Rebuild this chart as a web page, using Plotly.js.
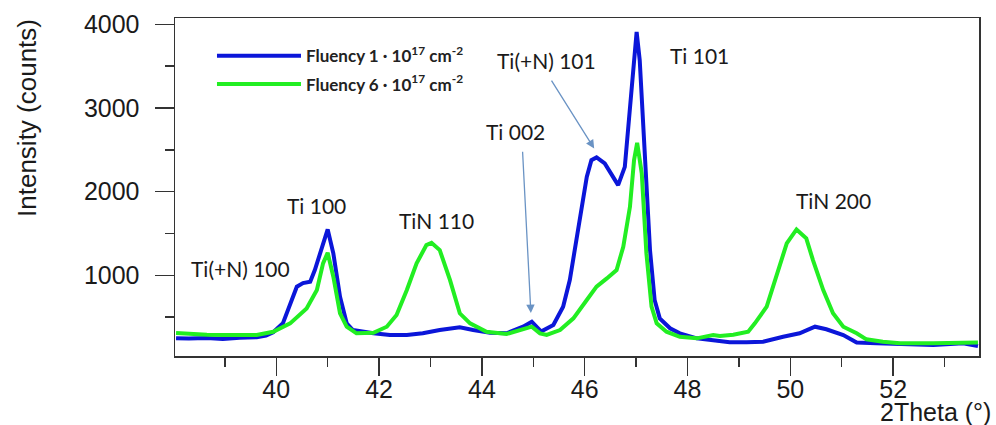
<!DOCTYPE html>
<html>
<head>
<meta charset="utf-8">
<script src="https://cdn.plot.ly/plotly-3.0.1.min.js"></script>
<style>html,body{margin:0;padding:0;background:#fff;}#chart{width:996px;height:425px;}</style>
</head>
<body>
<div id="chart"></div>
<script>
// 2Theta (deg) and intensity (counts)
const theta1 = [38.05,38.3,38.65,38.96,39.29,39.62,39.8,39.94,40.13,40.27,40.40,40.52,40.66,40.75,40.88,41.00,41.11,41.24,41.37,41.49,41.89,42.21,42.54,42.85,43.18,43.57,43.83,44.16,44.48,44.80,44.97,45.15,45.39,45.58,45.71,45.84,45.94,46.04,46.13,46.23,46.39,46.52,46.65,46.78,46.88,46.96,47.01,47.07,47.17,47.27,47.36,47.46,47.66,47.85,48.18,48.50,48.82,49.15,49.47,49.86,50.18,50.48,50.70,51.03,51.29,51.68,52.13,52.78,53.36,53.65];
const counts1 = [250,245,252,240,255,262,280,320,430,650,865,908,924,1064,1302,1549,1263,745,427,347,308,288,288,308,347,380,347,315,308,387,447,330,407,626,944,1422,1819,2177,2377,2409,2337,2198,2078,2297,3013,3690,3909,3571,2496,1302,706,487,368,308,248,228,200,200,208,267,308,387,356,288,197,189,180,168,189,156];

const theta6 = [38.05,38.3,38.65,38.96,39.62,39.94,40.27,40.59,40.79,40.91,41.00,41.11,41.24,41.37,41.56,41.89,42.15,42.34,42.54,42.73,42.92,43.02,43.18,43.38,43.57,43.77,44.09,44.48,44.80,44.97,45.13,45.26,45.52,45.78,46.04,46.23,46.43,46.62,46.75,46.88,46.96,47.02,47.11,47.20,47.30,47.40,47.59,47.85,48.18,48.50,48.63,48.89,49.18,49.31,49.54,49.73,49.93,50.12,50.31,50.44,50.64,50.83,51.03,51.29,51.48,51.80,52.13,52.78,53.42,53.65];
const counts6 = [311,300,290,288,288,327,427,606,825,1144,1270,984,547,387,308,315,387,526,825,1144,1362,1390,1302,944,547,427,327,300,356,387,308,288,347,487,706,865,964,1064,1342,1819,2377,2584,2218,1263,626,427,327,267,248,288,275,290,327,427,626,984,1382,1549,1442,1183,825,547,387,308,236,208,189,189,189,197];

const seriesNames = ['<b>Fluency 1 · 10<sup>17</sup> cm<sup>-2</sup></b>', '<b>Fluency 6 · 10<sup>17</sup> cm<sup>-2</sup></b>'];

const peakLabels = ['Ti(+N) 100','Ti 100','TiN 110','Ti 002','Ti(+N) 101','Ti 101','TiN 200'];
const peakLabelX = [39.31,40.79,43.11,44.66,45.25,48.24,50.84];
const peakLabelY = [1087,1840,1660,2722,3571,3631,1899];

// arrows: [head theta, head counts, tail theta, tail counts]
const arrowHeadX = [44.953, 46.184];
const arrowHeadY = [550, 2516];
const arrowTailX = [44.79, 45.336];
const arrowTailY = [2496, 3344];

const xRange = [38.03, 53.67];
const yRange = [37, 4075];

const axisColor = '#333333';
const tickFont = {family: '"Liberation Sans", Arial, sans-serif', size: 25, color: '#1a1a1a'};
const labelFont = {family: 'Lato, "Open Sans", sans-serif', size: 21, color: '#1a1a1a'};

const traces = [
  {x: theta1, y: counts1, type: 'scatter', mode: 'lines', name: seriesNames[0], legendgroup: 'a',
   line: {color: '#0b16d9', width: 4}},
  {x: theta6, y: counts6, type: 'scatter', mode: 'lines', name: seriesNames[1], legendgroup: 'b',
   line: {color: '#22ee22', width: 4}}
];

const annotations = [];
peakLabels.forEach((t, i) => {
  annotations.push({x: peakLabelX[i], y: peakLabelY[i], xref: 'x', yref: 'y', text: t, showarrow: false,
    font: labelFont, xanchor: 'center', yanchor: 'middle'});
});
arrowHeadX.forEach((hx, i) => {
  annotations.push({x: hx, y: arrowHeadY[i], ax: arrowTailX[i], ay: arrowTailY[i], axref: 'x', ayref: 'y',
    xref: 'x', yref: 'y', text: '', showarrow: true, arrowhead: 2, arrowsize: 1.3, arrowwidth: 1.3,
    arrowcolor: '#6a93c4'});
});
annotations.push({xref: 'paper', yref: 'paper', x: -0.185, y: 0.705, text: 'Intensity (counts)', textangle: -90,
  showarrow: false, font: {family: '"Liberation Sans", Arial, sans-serif', size: 26, color: '#1a1a1a'},
  xanchor: 'center', yanchor: 'middle'});
annotations.push({xref: 'paper', yref: 'paper', x: 1.0174, y: -0.165, text: '2Theta (°)', showarrow: false,
  font: {family: '"Liberation Sans", Arial, sans-serif', size: 25, color: '#1a1a1a'},
  xanchor: 'right', yanchor: 'middle'});

const layout = {
  width: 996, height: 425,
  margin: {l: 175, r: 17, t: 18, b: 69},
  paper_bgcolor: '#ffffff', plot_bgcolor: '#ffffff',
  showlegend: true,
  legend: {x: 0.046, y: 0.94, xanchor: 'left', yanchor: 'top', bgcolor: 'rgba(0,0,0,0)',
    font: {family: 'Lato, "Open Sans", sans-serif', size: 17, color: '#222'}, itemwidth: 84,
    tracegroupgap: 3},
  xaxis: {range: xRange, showgrid: false, zeroline: false, showline: true, linecolor: axisColor, linewidth: 1.5,
    mirror: true, ticks: 'outside', ticklen: 18, tickwidth: 1.5, tickcolor: axisColor, dtick: 2, tick0: 40,
    tickfont: tickFont, ticklabelstandoff: -8,
    minor: {dtick: 1, ticks: 'outside', ticklen: 9, tickwidth: 1.5, tickcolor: axisColor}},
  yaxis: {range: yRange, showgrid: false, zeroline: false, showline: true, linecolor: axisColor, linewidth: 1.5,
    mirror: true, ticks: 'outside', ticklen: 19, tickwidth: 1.5, tickcolor: axisColor, dtick: 1000, tick0: 0,
    tickfont: tickFont, ticklabelstandoff: 10,
    minor: {dtick: 500, ticks: 'outside', ticklen: 9, tickwidth: 1.5, tickcolor: axisColor}},
  annotations: annotations
};

Plotly.newPlot('chart', traces, layout, {displayModeBar: false, staticPlot: true});
</script>
</body>
</html>
